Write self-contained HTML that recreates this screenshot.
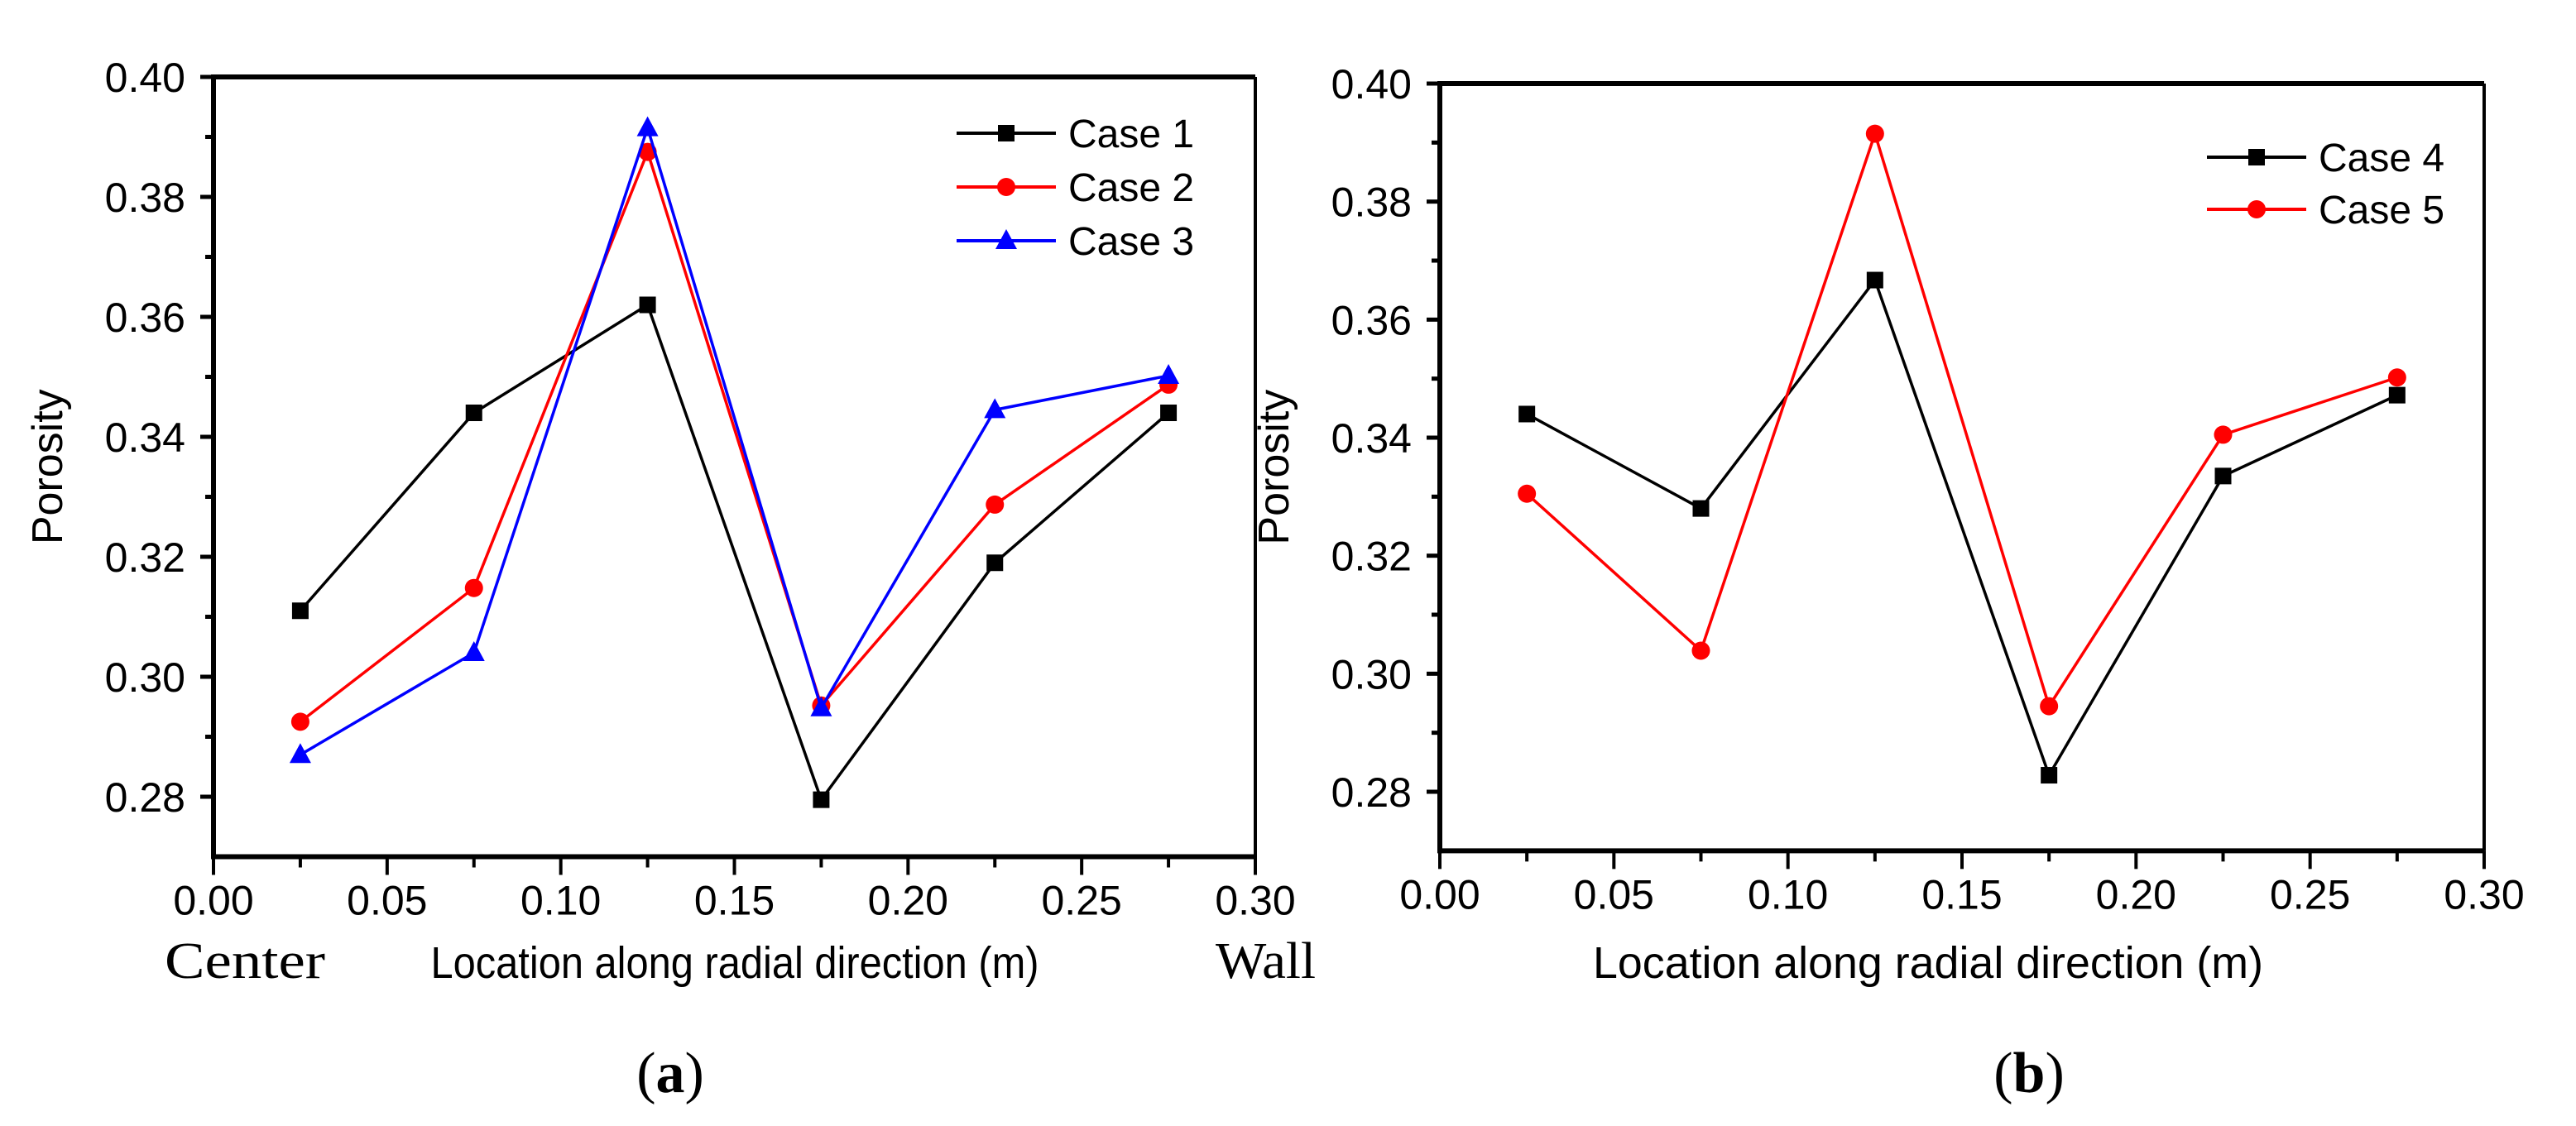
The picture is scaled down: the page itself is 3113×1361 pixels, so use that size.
<!DOCTYPE html>
<html><head><meta charset="utf-8"><style>
html,body{margin:0;padding:0;background:#fff}
svg{display:block}
text{font-family:"Liberation Sans",Arial,sans-serif;fill:#000}
.serif{font-family:"Liberation Serif","Times New Roman",serif}
</style></head>
<body>
<svg id="fig" width="3113" height="1361" viewBox="0 0 3113 1361" xmlns="http://www.w3.org/2000/svg"></svg>
<script>
const xPositions = [0.025, 0.075, 0.125, 0.175, 0.225, 0.275];
const xTicks = [0, 0.05, 0.10, 0.15, 0.20, 0.25, 0.30];
const xTickLabels = ["0.00","0.05","0.10","0.15","0.20","0.25","0.30"];
const yTicks = [0.28, 0.30, 0.32, 0.34, 0.36, 0.38, 0.40];
const yTickLabels = ["0.28","0.30","0.32","0.34","0.36","0.38","0.40"];
const case1 = [0.311, 0.344, 0.362, 0.2795, 0.319, 0.344];
const case2 = [0.2925, 0.3148, 0.3875, 0.2952, 0.3287, 0.3487];
const case3 = [0.287, 0.304, 0.3915, 0.2948, 0.3445, 0.3502];
const case4 = [0.344, 0.328, 0.3667, 0.2828, 0.3335, 0.3472];
const case5 = [0.3305, 0.3039, 0.3915, 0.2945, 0.3405, 0.3502];

const NS = "http://www.w3.org/2000/svg";
const fig = document.getElementById('fig');
function mk(tag, attrs, parent, text){
  const e = document.createElementNS(NS, tag);
  for (const k in attrs) e.setAttribute(k, attrs[k]);
  if (text !== undefined) e.textContent = text;
  (parent || fig).appendChild(e);
  return e;
}

function marker(g, shape, cx, cy, color){
  let m;
  if (shape === 'square') {
    m = mk('rect', {x: cx-10, y: cy-10, width: 20, height: 20, fill: color}, g);
  } else if (shape === 'circle') {
    m = mk('circle', {cx: cx, cy: cy, r: 11, fill: color}, g);
  } else {
    m = mk('polygon', {points: `${cx},${cy-14} ${cx-13},${cy+10} ${cx+13},${cy+10}`, fill: color}, g);
  }
  return m;
}

function drawPanel(cfg){
  const {x0, x1, yTop, yMin, yMax, yBot, name} = cfg;
  const panel = mk('g', {});
  
  
  const sx = v => x0 + (v - 0) / 0.30 * (x1 - x0);
  const sy = v => yTop + (yMax - v) / (yMax - yMin) * (yBot - yTop);
  const yAxisBottomPx = sy(0.27);

  const frame = mk('g', {}, panel);
  
  
  mk('line', {x1: x0, y1: yTop, x2: x1, y2: yTop, stroke: '#000', 'stroke-width': 6}, frame);
  mk('line', {x1: x0, y1: yAxisBottomPx, x2: x1, y2: yAxisBottomPx, stroke: '#000', 'stroke-width': 6}, frame);
  mk('line', {x1: x0, y1: yTop-3, x2: x0, y2: yAxisBottomPx+3, stroke: '#000', 'stroke-width': 6}, frame);
  mk('line', {x1: x1, y1: yTop, x2: x1, y2: yAxisBottomPx, stroke: '#000', 'stroke-width': 4}, frame);

  const xAxis = mk('g', {}, panel);
  
  
  xTicks.forEach((v, i) => {
    const x = sx(v);
    mk('line', {x1: x, y1: yAxisBottomPx, x2: x, y2: yAxisBottomPx + 22, stroke: '#000', 'stroke-width': 4}, xAxis);
    const t = mk('text', {x: x, y: yAxisBottomPx + 70, 'font-size': 50, 'text-anchor': 'middle'}, xAxis, xTickLabels[i]);
    
    
    if (i < xTicks.length - 1) {
      const xm = sx(v + 0.025);
      mk('line', {x1: xm, y1: yAxisBottomPx, x2: xm, y2: yAxisBottomPx + 13, stroke: '#000', 'stroke-width': 4}, xAxis);
    }
  });

  const yAxis = mk('g', {}, panel);
  
  
  yTicks.forEach((v, i) => {
    const y = sy(v);
    mk('line', {x1: x0 - 16, y1: y, x2: x0, y2: y, stroke: '#000', 'stroke-width': 5}, yAxis);
    const t = mk('text', {x: x0 - 34, y: y + 18, 'font-size': 50, 'text-anchor': 'end'}, yAxis, yTickLabels[i]);
    
    
    if (i < yTicks.length - 1) {
      const ym = sy(v + 0.01);
      mk('line', {x1: x0 - 10, y1: ym, x2: x0, y2: ym, stroke: '#000', 'stroke-width': 5}, yAxis);
    }
  });
  const yl = mk('text', {x: 0, y: 0, 'font-size': 52, 'text-anchor': 'middle', transform: `translate(${x0 - 183},${sy(0.335)}) rotate(-90)`}, panel, 'Porosity');
  
  

  cfg.series.forEach(s => {
    const g = mk('g', {}, panel);
    
    
    const pts = s.values.map((v, i) => `${sx(xPositions[i])},${sy(v)}`).join(' ');
    mk('polyline', {points: pts, fill: 'none', stroke: s.color, 'stroke-width': 3.5}, g);
    s.values.forEach((v, i) => {
      const m = marker(g, s.shape, sx(xPositions[i]), sy(v), s.color);
      
      
    });
  });

  const lg = mk('g', {}, panel);
  
  
  cfg.series.forEach((s, i) => {
    const y = cfg.legY + i * cfg.legStep;
    const e = mk('g', {}, lg);
    
    
    mk('line', {x1: cfg.legX, y1: y, x2: cfg.legX + 120, y2: y, stroke: s.color, 'stroke-width': 4}, e);
    marker(e, s.shape, cfg.legX + 60, y, s.color);
    mk('text', {x: cfg.legX + 135, y: y + 17, 'font-size': 48}, e, s.label);
  });
  return {sx, sy, panel};
}

drawPanel({
  name: 'panel-a', x0: 258, x1: 1517, yTop: 93, yBot: 963, yMin: 0.28, yMax: 0.40,
  legX: 1156, legY: 161, legStep: 65,
  series: [
    {name: 'series-case-1', label: 'Case 1', values: case1, color: '#000000', shape: 'square'},
    {name: 'series-case-2', label: 'Case 2', values: case2, color: '#ff0000', shape: 'circle'},
    {name: 'series-case-3', label: 'Case 3', values: case3, color: '#0000ff', shape: 'triangle'}
  ]
});
drawPanel({
  name: 'panel-b', x0: 1740, x1: 3002, yTop: 101, yBot: 957, yMin: 0.28, yMax: 0.40,
  legX: 2667, legY: 190, legStep: 63,
  series: [
    {name: 'series-case-4', label: 'Case 4', values: case4, color: '#000000', shape: 'square'},
    {name: 'series-case-5', label: 'Case 5', values: case5, color: '#ff0000', shape: 'circle'}
  ]
});

let t;
t = mk('text', {x: 888, y: 1182, 'font-size': 54, 'text-anchor': 'middle', textLength: 735, lengthAdjust: 'spacingAndGlyphs'}, fig, 'Location along radial direction (m)');


t = mk('text', {x: 2330, y: 1182, 'font-size': 54, 'text-anchor': 'middle', textLength: 810, lengthAdjust: 'spacingAndGlyphs'}, fig, 'Location along radial direction (m)');


t = mk('text', {x: 199, y: 1182, 'font-size': 62, class: 'serif', textLength: 194, lengthAdjust: 'spacingAndGlyphs'}, fig, 'Center');


t = mk('text', {x: 1469, y: 1182, 'font-size': 62, class: 'serif', textLength: 121, lengthAdjust: 'spacingAndGlyphs'}, fig, 'Wall');


t = mk('text', {x: 810, y: 1320, 'font-size': 70, class: 'serif', 'text-anchor': 'middle'}, fig);


mk('tspan', {}, t, '(');
mk('tspan', {'font-weight': 'bold'}, t, 'a');
mk('tspan', {}, t, ')');
t = mk('text', {x: 2452, y: 1320, 'font-size': 70, class: 'serif', 'text-anchor': 'middle'}, fig);


mk('tspan', {}, t, '(');
mk('tspan', {'font-weight': 'bold'}, t, 'b');
mk('tspan', {}, t, ')');
</script>
</body></html>
